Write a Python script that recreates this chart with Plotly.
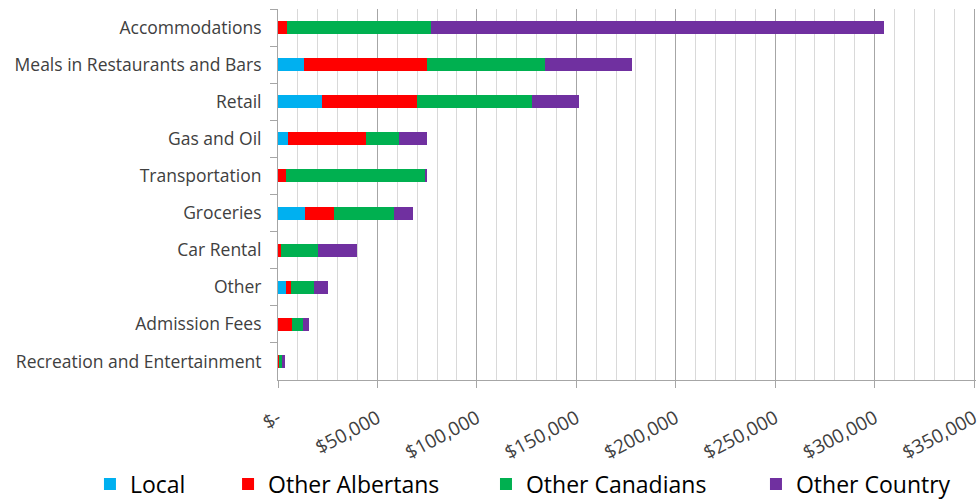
import plotly.graph_objects as go

categories = ["Accommodations", "Meals in Restaurants and Bars", "Retail", "Gas and Oil",
              "Transportation", "Groceries", "Car Rental", "Other", "Admission Fees",
              "Recreation and Entertainment"]
local = [0, 13100, 22300, 5200, 0, 13700, 0, 4000, 0, 0]
other_albertans = [4700, 61700, 47600, 39100, 4000, 14600, 1700, 2500, 7000, 1000]
other_canadians = [72400, 59700, 57900, 16400, 70100, 30100, 18300, 11500, 5600, 1000]
other_country = [227500, 43700, 23600, 14400, 500, 9700, 19900, 7300, 3000, 1500]

tick_vals = [0, 50000, 100000, 150000, 200000, 250000, 300000, 350000]
tick_text = ["$-", "$50,000", "$100,000", "$150,000", "$200,000", "$250,000", "$300,000", "$350,000"]

series = [("Local", local, "#00B0F0"), ("Other Albertans", other_albertans, "#FF0000"),
          ("Other Canadians", other_canadians, "#00B050"), ("Other Country", other_country, "#7030A0")]

AXFONT = "'Open Sans', sans-serif"
LEGFONT = "'Open Sans', sans-serif"

legend_names = ["legend", "legend2", "legend3", "legend4"]
legend_x = [0.0918, 0.2327, 0.4959, 0.7714]

fig = go.Figure()
for (name, vals, color), lg in zip(series, legend_names):
    fig.add_trace(go.Bar(y=categories, x=vals, name=name, orientation="h",
                         marker=dict(color=color, line=dict(width=0)), legend=lg))

legend_common = dict(orientation="h", xref="container", yref="container",
                     y=0.03, yanchor="middle", xanchor="left",
                     font=dict(family=LEGFONT, size=23, color="#000000"),
                     bgcolor="rgba(0,0,0,0)")
layout_legends = {lg: dict(legend_common, x=lx) for lg, lx in zip(legend_names, legend_x)}

fig.update_layout(
    barmode="stack", bargap=0.65,
    width=980, height=499,
    margin=dict(l=278, r=4, t=9, b=119),
    paper_bgcolor="white", plot_bgcolor="white",
    font=dict(family=AXFONT, size=16, color="#404040"),
    showlegend=True,
    **layout_legends,
)
fig.update_xaxes(range=[0, 351000], tickvals=tick_vals, ticktext=tick_text,
                 tickangle=-28, showgrid=True, gridcolor="#A6A6A6", gridwidth=1,
                 minor=dict(dtick=10000, showgrid=True, gridcolor="#D9D9D9", gridwidth=1),
                 ticks="outside", ticklen=7, tickcolor="#A6A6A6",
                 showline=True, linecolor="#A6A6A6", linewidth=1,
                 tickfont=dict(family=AXFONT, size=19, color="#404040"), zeroline=False,
                 automargin=False, ticklabelstandoff=12, ticklabeloverflow="allow")
fig.update_yaxes(autorange="reversed", tickson="boundaries", ticks="outside", ticklen=7,
                 tickcolor="#A6A6A6", showline=True, linecolor="#A6A6A6",
                 tickfont=dict(family=AXFONT, size=17.5, color="#404040"), automargin=False,
                 ticklabelstandoff=12)

fig.write_html("out.html")
